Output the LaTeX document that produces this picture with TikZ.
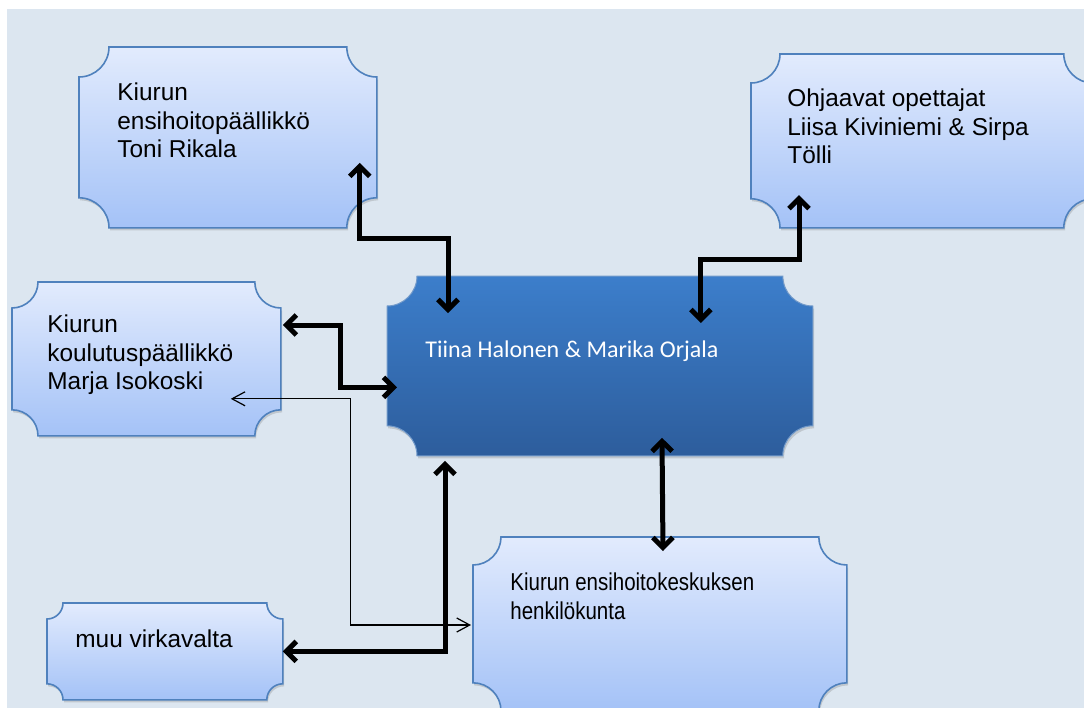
\documentclass[tikz,border=0pt]{standalone}
\usepackage{fontspec}
\setmainfont{Liberation Sans}
\newfontfamily\calibrifont{Carlito}
\newfontfamily\kapeafont[FakeStretch=0.84]{Liberation Sans}
\usetikzlibrary{arrows.meta}
\usetikzlibrary{calc}
\usetikzlibrary{shadows}
\definecolor{pohja}{HTML}{DCE6F0}
\definecolor{vaaleatop}{HTML}{E2EBFD}
\definecolor{vaaleabot}{HTML}{A4C2F7}
\definecolor{reuna}{HTML}{4F81BD}
\definecolor{tummatop}{HTML}{3C7ECB}
\definecolor{tummabot}{HTML}{2D5D9C}

\pgfdeclarelayer{tausta}
\pgfdeclarelayer{laatat}
\pgfsetlayers{tausta,laatat,main}

% text of a plaque: width, height, left pad, first baseline, lines
\newcommand{\laattateksti}[5]{\parbox[t][#2][t]{#1}{\raggedright\leftskip=#3\relax
  \vspace*{\dimexpr#4-10pt\relax}\rule{0pt}{10pt}#5\par}}

% notched outline round a node: name, notch radius, style
\newcommand{\laatta}[3]{\path[#3] let \p1=(#1.north west), \p2=(#1.south east) in
  (\x1+#2,\y1) -- (\x2-#2,\y1)
  .. controls (\x2-#2,\y1-0.55*#2) and (\x2-0.55*#2,\y1-#2) .. (\x2,\y1-#2)
  -- (\x2,\y2+#2)
  .. controls (\x2-0.55*#2,\y2+#2) and (\x2-#2,\y2+0.55*#2) .. (\x2-#2,\y2)
  -- (\x1+#2,\y2)
  .. controls (\x1+#2,\y2+0.55*#2) and (\x1+0.55*#2,\y2+#2) .. (\x1,\y2+#2)
  -- (\x1,\y1-#2)
  .. controls (\x1+0.55*#2,\y1-#2) and (\x1+#2,\y1-0.55*#2) .. (\x1+#2,\y1) -- cycle;}

\tikzset{
  laatta/.style={inner sep=0pt, anchor=north west, font=\fontsize{12.2}{14.3}\selectfont},
  vaalea/.style={top color=vaaleatop, bottom color=vaaleabot, draw=reuna, line width=0.8pt,
    drop shadow={shadow xshift=0.6pt, shadow yshift=-1.3pt, opacity=0.3}},
  tumma/.style={top color=tummatop, bottom color=tummabot, draw=reuna!80!white, line width=0.5pt,
    drop shadow={shadow xshift=0.6pt, shadow yshift=-1.3pt, opacity=0.3}},
  paksu/.style={<->, line width=2.5pt, >={Straight Barb[length=5pt, width=10pt]}},
  ohut/.style={<->, line width=0.6pt, >={Straight Barb[length=6.5pt, width=7pt]}}
}

\begin{document}
\begin{tikzpicture}[x=0.5pt, y=-0.5pt]
  \useasboundingbox (0,0) rectangle (1084,708);
  \begin{pgfonlayer}{tausta}
    \fill[pohja] (7,9) rectangle (1084,708);
  \end{pgfonlayer}

  \node[laatta] (ensihoito) at (79,47) {\laattateksti{148.5pt}{90pt}{19pt}{26.5pt}{Kiurun\\ensihoitopäällikkö\\Toni Rikala}};
  \node[laatta] (ohjaajat) at (751,54) {\laattateksti{170.5pt}{86.5pt}{18pt}{26pt}{Ohjaavat opettajat\\Liisa Kiviniemi \& Sirpa\\Tölli}};
  \node[laatta, font=\calibrifont\fontsize{12}{14}\selectfont, text=white] (tekijat) at (387,276) {\laattateksti{212.5pt}{89.5pt}{19pt}{40.5pt}{Tiina Halonen \& Marika Orjala}};
  \node[laatta] (koulutus) at (12,282) {\laattateksti{134pt}{76.5pt}{17.5pt}{25pt}{Kiurun\\koulutuspäällikkö\\Marja Isokoski}};
  \node[laatta] (virka) at (47,603) {\laattateksti{117.5pt}{48pt}{14pt}{22pt}{muu virkavalta}};
  \node[laatta, font=\kapeafont\fontsize{12.2}{14.3}\selectfont] (henkilo) at (473,537) {\laattateksti{186.5pt}{86.5pt}{18.5pt}{26.5pt}{Kiurun ensihoitokeskuksen\\henkilökunta}};

  \begin{pgfonlayer}{laatat}
    \clip (0,0) rectangle (1084,708);
    \laatta{ensihoito}{15pt}{vaalea}
    \laatta{ohjaajat}{14.5pt}{vaalea}
    \laatta{tekijat}{15pt}{tumma}
    \laatta{koulutus}{13pt}{vaalea}
    \laatta{virka}{8pt}{vaalea}
    \laatta{henkilo}{14pt}{vaalea}
  \end{pgfonlayer}

  \draw[paksu] ($(ensihoito.south east)+(-17,-65)$) |- ($(tekijat.north west)+(61,-38)$) -- ($(tekijat.north west)+(61,37)$);
  \draw[paksu] ($(ohjaajat.north west)+(48,141)$) |- ($(tekijat.north east)+(-112,-17)$) -- ($(tekijat.north east)+(-112,47)$);
  \draw[paksu] ($(koulutus.north east)+(2,43)$) -- ++(58,0) |- ($(tekijat.west)+(10,21.5)$);
  \draw[ohut] ($(koulutus.south east)+(-50,-37)$) -- ++(120,0) |- ($(henkilo.north west)+(-2,88)$);
  \draw[paksu] (virka.east) -| ($(tekijat.south west)+(58,5)$);
  \draw[paksu] ($(tekijat.south west)+(275,-18)$) -- ($(henkilo.north west)+(190,14)$);
\end{tikzpicture}
\end{document}
